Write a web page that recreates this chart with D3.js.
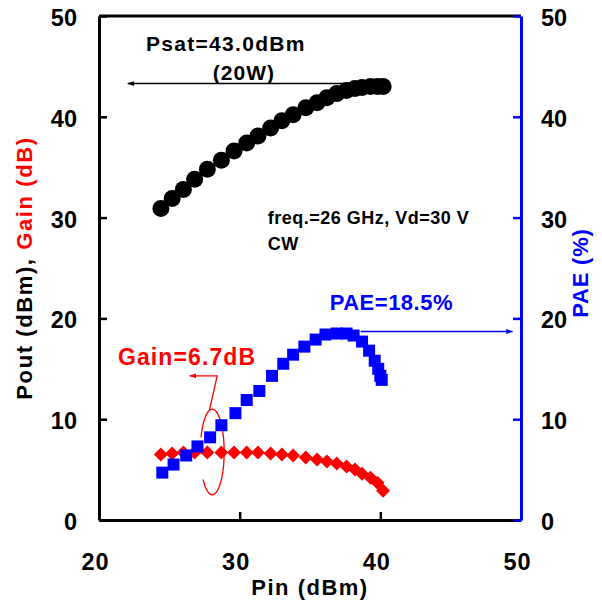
<!DOCTYPE html>
<html><head><meta charset="utf-8">
<script src="https://cdn.jsdelivr.net/npm/d3@7"></script>
<style>
body{margin:0;background:#fff}
svg{display:block}
text{font-family:"Liberation Sans",Arial,sans-serif;font-weight:bold}
</style>
</head><body>
<svg id="chart" width="602" height="603"></svg>
<script>
// ---- data ----
const xTicks = [20, 30, 40, 50];
const yTicks = [0, 10, 20, 30, 40, 50];
const pin  = [24.4,25.2,26.0,26.8,27.7,28.7,29.6,30.5,31.3,32.2,33.0,33.8,34.7,35.5,36.2,36.9,37.6,38.2,38.7,39.3,39.8,40.2];
const pout = [30.9,31.9,32.8,33.8,34.8,35.7,36.6,37.4,38.1,38.9,39.6,40.2,40.9,41.4,41.9,42.3,42.6,42.8,42.9,43.0,43.0,43.0];
const gain = [6.5,6.6,6.7,6.7,6.7,6.7,6.7,6.7,6.7,6.6,6.5,6.4,6.2,6.0,5.8,5.6,5.3,5.0,4.6,4.2,3.7,2.9];
const pinPae = [24.5,25.3,26.2,27.0,27.9,28.7,29.7,30.5,31.4,32.3,33.1,33.8,34.6,35.4,36.1,36.9,37.6,38.1,38.7,39.2,39.6,39.85,40.0,40.1];
const pae    = [4.7,5.5,6.4,7.3,8.2,9.4,10.6,11.9,12.8,14.3,15.5,16.4,17.2,17.9,18.4,18.5,18.5,18.3,17.7,16.8,15.8,15.0,14.3,13.9];

const BLUE = "#0000ff", RED = "#ff0000", BLACK = "#000000";

const svg = d3.select("#chart");
const x = d3.scaleLinear().domain([20, 50]).range([99, 521]);
const y = d3.scaleLinear().domain([0, 50]).range([520, 16]);

// arrow markers
const defs = svg.append("defs");
function marker(id, color) {
  defs.append("marker").attr("id", id).attr("viewBox", "0 0 10 10")
    .attr("refX", 9).attr("refY", 5).attr("markerWidth", 7).attr("markerHeight", 7)
    .attr("markerUnits", "userSpaceOnUse").attr("orient", "auto")
    .append("path").attr("d", "M0,1.5L10,5L0,8.5Z").attr("fill", color);
}
marker("arrK", BLACK); marker("arrR", RED); marker("arrB", BLUE);

// ---- frame & axes ----
svg.append("line").attr("x1", x(20)).attr("x2", x(50)).attr("y1", y(50)).attr("y2", y(50))
  .attr("stroke", BLACK).attr("stroke-width", 3);

const gB = svg.append("g").attr("transform", `translate(0,${y(0)})`)
  .call(d3.axisBottom(x).tickValues(xTicks).tickSizeInner(-8).tickSizeOuter(0).tickPadding(33).tickFormat(d3.format("d")));
const gL = svg.append("g").attr("transform", `translate(${x(20)},0)`)
  .call(d3.axisLeft(y).tickValues(yTicks).tickSizeInner(-8).tickSizeOuter(0).tickPadding(22).tickFormat(d3.format("d")));
const gR = svg.append("g").attr("transform", `translate(${x(50)},0)`)
  .call(d3.axisRight(y).tickValues(yTicks).tickSizeInner(-8).tickSizeOuter(0).tickPadding(20).tickFormat(d3.format("d")));

[gB, gL, gR].forEach(g => {
  g.select(".domain").attr("stroke-width", 3);
  g.selectAll(".tick line").attr("stroke-width", 2.5);
  g.selectAll(".tick text").attr("font-size", 23.5).attr("fill", BLACK)
    .style("font-family", '"Liberation Sans",Arial,sans-serif').style("font-weight", "bold");
});
gB.selectAll(".tick text").attr("dx", -4).style("letter-spacing", "1px");
gL.selectAll(".tick text").attr("dy", "0.4em");
gR.selectAll(".tick text").attr("dy", "0.4em");
gR.select(".domain").attr("stroke", BLUE);
gR.selectAll(".tick line").attr("stroke", BLUE);

// axis titles
svg.append("text").attr("x", x(35)).attr("y", 595).attr("text-anchor", "middle")
  .attr("font-size", 22).style("letter-spacing", "1.5px").text("Pin (dBm)");

const tL = svg.append("text").attr("transform", `translate(32,${y(25)}) rotate(-90)`)
  .attr("text-anchor", "middle").attr("font-size", 22).style("letter-spacing", "1.6px");
tL.append("tspan").attr("fill", BLACK).text("Pout (dBm), ");
tL.append("tspan").attr("fill", RED).text("Gain (dB)");

svg.append("text").attr("transform", `translate(588,${y(24.5)}) rotate(-90)`)
  .attr("text-anchor", "middle").attr("font-size", 22).attr("fill", BLUE)
  .style("letter-spacing", "0.8px").text("PAE (%)");

// ---- annotations (behind markers) ----
svg.append("line").attr("x1", x(40.0)).attr("y1", y(43.3)).attr("x2", x(22.05)).attr("y2", y(43.3))
  .attr("stroke", BLACK).attr("stroke-width", 1.5).attr("marker-end", "url(#arrK)");

svg.append("line").attr("x1", x(38.6)).attr("y1", y(18.7)).attr("x2", x(49.4)).attr("y2", y(18.7))
  .attr("stroke", BLUE).attr("stroke-width", 1.5).attr("marker-end", "url(#arrB)");

// gain callout: arrow + leader + open ellipse
svg.append("path")
  .attr("d", `M${x(27.85)},${y(10.9)}L${x(28.4)},${y(14.3)}L${x(26.45)},${y(14.3)}`)
  .attr("fill", "none").attr("stroke", RED).attr("stroke-width", 1.3).attr("marker-end", "url(#arrR)");
const ecx = x(28.05), ecy = y(6.75), erx = x(28.9) - x(28.05), ery = y(6.75) - y(11.0);
const ePts = d3.range(200, 501, 5).map(a => {
  const t = a * Math.PI / 180;
  return [ecx + erx * Math.cos(t), ecy + ery * Math.sin(t)];
});
svg.append("path").attr("d", d3.line().curve(d3.curveBasis)(ePts))
  .attr("fill", "none").attr("stroke", RED).attr("stroke-width", 1.3);

// ---- series ----
svg.append("g").selectAll("circle").data(pin.map((p, i) => [p, pout[i]])).join("circle")
  .attr("cx", d => x(d[0])).attr("cy", d => y(d[1])).attr("r", 8.5).attr("fill", BLACK);

const dia = 7;
svg.append("g").selectAll("path").data(pin.map((p, i) => [p, gain[i]])).join("path")
  .attr("d", d => `M${x(d[0])},${y(d[1]) - dia}L${x(d[0]) + dia},${y(d[1])}L${x(d[0])},${y(d[1]) + dia}L${x(d[0]) - dia},${y(d[1])}Z`)
  .attr("fill", RED);

const sq = 12;
svg.append("g").selectAll("rect").data(pinPae.map((p, i) => [p, pae[i]])).join("rect")
  .attr("x", d => x(d[0]) - sq / 2).attr("y", d => y(d[1]) - sq / 2)
  .attr("width", sq).attr("height", sq).attr("fill", BLUE);

// ---- annotation texts ----
svg.append("text").attr("x", x(23.34)).attr("y", y(46.5)).attr("font-size", 21)
  .style("letter-spacing", "1.3px").text("Psat=43.0dBm");
svg.append("text").attr("x", x(30.3)).attr("y", y(43.65)).attr("font-size", 21).attr("text-anchor", "middle")
  .style("letter-spacing", "1px").text("(20W)");
svg.append("text").attr("x", x(32.0)).attr("y", y(29.4)).attr("font-size", 18)
  .style("letter-spacing", "0.5px").text("freq.=26 GHz, Vd=30 V");
svg.append("text").attr("x", x(32.0)).attr("y", y(26.8)).attr("font-size", 18)
  .style("letter-spacing", "0.5px").text("CW");
svg.append("text").attr("x", x(36.4)).attr("y", y(20.8)).attr("font-size", 22).attr("fill", BLUE)
  .style("letter-spacing", "0.5px").text("PAE=18.5%");
svg.append("text").attr("x", x(21.35)).attr("y", y(15.4)).attr("font-size", 23).attr("fill", RED)
  .style("letter-spacing", "1.1px").text("Gain=6.7dB");
</script>
</body></html>
